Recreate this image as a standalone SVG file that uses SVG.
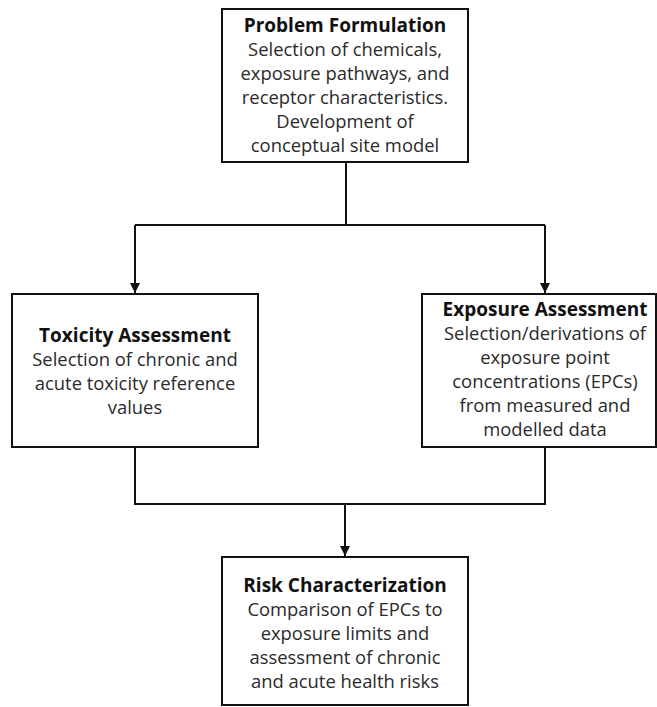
<svg xmlns="http://www.w3.org/2000/svg" width="657" height="707" viewBox="0 0 657 707">
  <style>
    .box { fill: #ffffff; stroke: #111111; stroke-width: 2; }
    .title { font-family: "Open Sans", "Liberation Sans", sans-serif; font-weight: bold; font-size: 19px; fill: #111111; text-anchor: middle; }
    .body { font-family: "Open Sans", "Liberation Sans", sans-serif; font-size: 18.4px; fill: #2a2a2a; text-anchor: middle; }
    .wire { fill: none; stroke: #111111; stroke-width: 2; }
  </style>
  <defs>
    <marker id="arrow" viewBox="0 0 10 10" refX="10" refY="5" markerWidth="5" markerHeight="5" markerUnits="strokeWidth" orient="auto">
      <path d="M0,0 L10,5 L0,10 Z" fill="#111111"/>
    </marker>
  </defs>
  <rect width="657" height="707" fill="#ffffff"/>

  <!-- connectors -->
  <g id="connectors">
    <path class="wire" d="M346,162 V225"/>
    <path class="wire" d="M135,225 H545"/>
    <path class="wire" d="M135,225 V293" marker-end="url(#arrow)"/>
    <path class="wire" d="M545,225 V293" marker-end="url(#arrow)"/>
    <path class="wire" d="M135,447 V504 H545 V447"/>
    <path class="wire" d="M345,504 V556" marker-end="url(#arrow)"/>
  </g>

  <!-- problem formulation -->
  <g id="problem-formulation">
    <rect class="box" x="222" y="9" width="246" height="153"/>
    <text class="title" x="345" y="32">Problem Formulation</text>
    <text class="body" x="345" y="56">Selection of chemicals,</text>
    <text class="body" x="345" y="80">exposure pathways, and</text>
    <text class="body" x="345" y="104">receptor characteristics.</text>
    <text class="body" x="345" y="128">Development of</text>
    <text class="body" x="345" y="152">conceptual site model</text>
  </g>

  <!-- toxicity assessment -->
  <g id="toxicity-assessment">
    <rect class="box" x="12" y="294" width="246" height="153"/>
    <text class="title" x="135" y="342">Toxicity Assessment</text>
    <text class="body" x="135" y="366">Selection of chronic and</text>
    <text class="body" x="135" y="390">acute toxicity reference</text>
    <text class="body" x="135" y="414">values</text>
  </g>

  <!-- exposure assessment -->
  <g id="exposure-assessment">
    <rect class="box" x="422" y="294" width="234" height="153"/>
    <text class="title" x="545" y="316">Exposure Assessment</text>
    <text class="body" x="545" y="340">Selection/derivations of</text>
    <text class="body" x="545" y="364">exposure point</text>
    <text class="body" x="545" y="388">concentrations (EPCs)</text>
    <text class="body" x="545" y="412">from measured and</text>
    <text class="body" x="545" y="436">modelled data</text>
  </g>

  <!-- risk characterization -->
  <g id="risk-characterization">
    <rect class="box" x="222" y="557" width="246" height="148"/>
    <text class="title" x="345" y="592">Risk Characterization</text>
    <text class="body" x="345" y="616">Comparison of EPCs to</text>
    <text class="body" x="345" y="640">exposure limits and</text>
    <text class="body" x="345" y="664">assessment of chronic</text>
    <text class="body" x="345" y="688">and acute health risks</text>
  </g>
</svg>
